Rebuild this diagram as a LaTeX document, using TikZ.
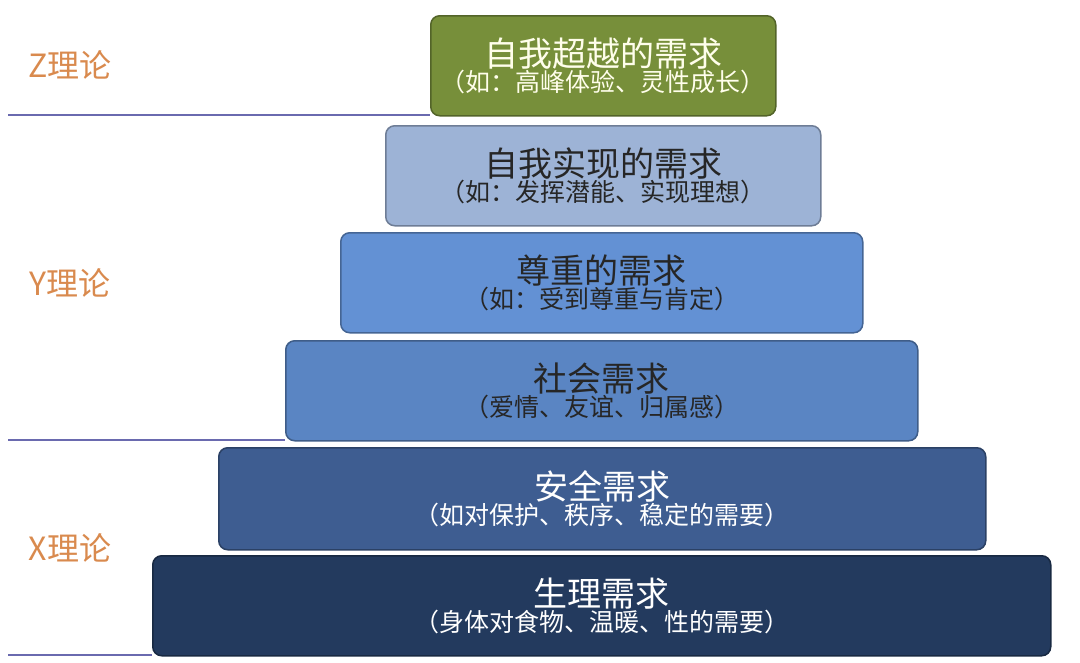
\documentclass[tikz,border=0pt]{standalone}
\usepackage{fontspec}
\newfontfamily\cjk{Noto Sans CJK SC}
\begin{document}
\begin{tikzpicture}[x=1pt,y=-1pt,
 lvl/.style={draw=#1!70!black,line width=1.5pt,rounded corners=9pt,inner sep=0pt,anchor=north west},
 txt/.style={font=\cjk,inner sep=0pt,align=center},
 lab/.style={font=\cjk\fontsize{32}{36}\selectfont,text=labc},
 sep/.style={draw=gray!70!blue!90,line width=1.2pt}]
\useasboundingbox (0,0) rectangle (1080,662);
\definecolor{labc}{HTML}{D98A4E}
\definecolor{c1}{HTML}{778F3A}\definecolor{c2}{HTML}{9DB3D6}\definecolor{c3}{HTML}{6391D4}
\definecolor{c4}{HTML}{5A85C3}\definecolor{c5}{HTML}{3E5D91}\definecolor{c6}{HTML}{233A5E}
\draw[sep] (8,115) -- (430,115);
\draw[sep] (8,440) -- (285,440);
\draw[sep] (8,655) -- (152,655);
\node[lvl=c1,fill=c1,minimum width=345pt,minimum height=100pt] (b1) at (430,15) {};
\node[txt,text=white!92!yellow] (t1) at (b1.center) {{\fontsize{34}{42}\selectfont 自我超越的需求}\\ {\fontsize{25}{30}\selectfont （如：高峰体验、灵性成长）}};
\node[lvl=c2,fill=c2,minimum width=435pt,minimum height=100pt] (b2) at (385,125) {};
\node[txt,text=black!85] (t2) at (b2.center) {{\fontsize{34}{42}\selectfont 自我实现的需求}\\ {\fontsize{25}{30}\selectfont （如：发挥潜能、实现理想）}};
\node[lvl=c3,fill=c3,minimum width=522pt,minimum height=100pt] (b3) at (340,232) {};
\node[txt,text=black!85] (t3) at (b3.center) {{\fontsize{34}{42}\selectfont 尊重的需求}\\ {\fontsize{25}{30}\selectfont （如：受到尊重与肯定）}};
\node[lvl=c4,fill=c4,minimum width=632pt,minimum height=100pt] (b4) at (285,340) {};
\node[txt,text=black!85] (t4) at (b4.center) {{\fontsize{34}{42}\selectfont 社会需求}\\ {\fontsize{25}{30}\selectfont （爱情、友谊、归属感）}};
\node[lvl=c5,fill=c5,minimum width=767pt,minimum height=102pt] (b5) at (218,447) {};
\node[txt,text=white] (t5) at (b5.center) {{\fontsize{34}{42}\selectfont 安全需求}\\ {\fontsize{25}{30}\selectfont （如对保护、秩序、稳定的需要）}};
\node[lvl=c6,fill=c6,minimum width=898pt,minimum height=100pt] (b6) at (152,555) {};
\node[txt,text=white] (t6) at (b6.center) {{\fontsize{34}{48}\selectfont 生理需求}\\ {\fontsize{25}{30}\selectfont （身体对食物、温暖、性的需要）}};
\node[lab] (z) at (70,65) {Z理论};
\node[lab] (y) at (70,283) {Y理论};
\node[lab] (x) at (70,548) {X理论};
\end{tikzpicture}
\end{document}
